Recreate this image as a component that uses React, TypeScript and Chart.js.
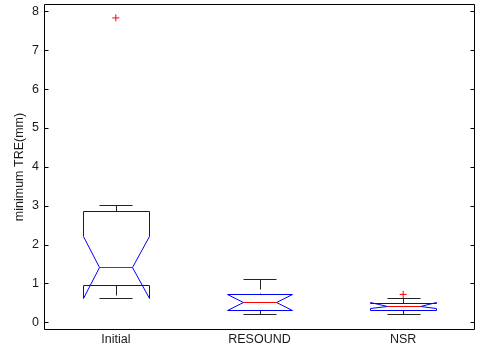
import React, { useEffect, useRef } from 'react';
import { Chart, registerables } from 'chart.js';

Chart.register(...registerables);

// ---- data ----
const categories = ['Initial', 'RESOUND', 'NSR'];
const lowerWhisker = [0.63, 0.205, 0.213];
const q1 = [0.964, 0.315, 0.315];
const notchLow = [0.63, 0.308, 0.36];
const median = [1.425, 0.513, 0.425];
const notchHigh = [2.213, 0.718, 0.51];
const q3 = [2.86, 0.718, 0.487];
const upperWhisker = [3.02, 1.12, 0.615];
const outlierGroup = [1, 3];
const outlierValue = [7.83, 0.718];
const yTicks = [0, 1, 2, 3, 4, 5, 6, 7, 8];
const yLabel = 'minimum TRE(mm)';

const BOX_HALF = 0.228;
const NOTCH_HALF = 0.114;
const CAP_HALF = 0.114;

const FONT = { family: '"Liberation Sans", Arial, sans-serif', size: 12.5 };
const TEXT = '#1a1a1a';

const snap = (v: number) => Math.round(v) + 0.5;

const boxPlugin = {
  id: 'boxPlugin',
  beforeDatasetsDraw(chart: any) {
    const { ctx } = chart;
    const xs = chart.scales.x;
    const ys = chart.scales.y;
    const X = (v: number) => snap(xs.getPixelForValue(v));
    const Y = (v: number) => snap(ys.getPixelForValue(v));
    ctx.save();
    ctx.lineWidth = 1;
    categories.forEach((_, i) => {
      const c = i + 1;
      const xc = X(c);
      const L = X(c - BOX_HALF);
      const R = X(c + BOX_HALF);
      const NL = X(c - NOTCH_HALF);
      const NR = X(c + NOTCH_HALF);
      const CL = X(c - CAP_HALF);
      const CR = X(c + CAP_HALF);
      // whiskers (dashed)
      ctx.strokeStyle = '#222';
      ctx.setLineDash([10, 4]);
      ctx.beginPath();
      ctx.moveTo(xc, Y(upperWhisker[i]));
      ctx.lineTo(xc, Y(q3[i]));
      ctx.stroke();
      ctx.beginPath();
      ctx.moveTo(xc, Y(q1[i]));
      ctx.lineTo(xc, Y(lowerWhisker[i]));
      ctx.stroke();
      ctx.setLineDash([]);
      // caps
      ctx.beginPath();
      ctx.moveTo(CL, Y(upperWhisker[i]));
      ctx.lineTo(CR, Y(upperWhisker[i]));
      ctx.moveTo(CL, Y(lowerWhisker[i]));
      ctx.lineTo(CR, Y(lowerWhisker[i]));
      ctx.stroke();
      // notched box
      ctx.strokeStyle = '#0000ff';
      ctx.beginPath();
      ctx.moveTo(L, Y(q1[i]));
      ctx.lineTo(L, Y(notchLow[i]));
      ctx.lineTo(NL, Y(median[i]));
      ctx.lineTo(L, Y(notchHigh[i]));
      ctx.lineTo(L, Y(q3[i]));
      ctx.lineTo(R, Y(q3[i]));
      ctx.lineTo(R, Y(notchHigh[i]));
      ctx.lineTo(NR, Y(median[i]));
      ctx.lineTo(R, Y(notchLow[i]));
      ctx.lineTo(R, Y(q1[i]));
      ctx.closePath();
      ctx.stroke();
      // median
      ctx.strokeStyle = '#ff0000';
      ctx.beginPath();
      ctx.moveTo(NL, Y(median[i]));
      ctx.lineTo(NR, Y(median[i]));
      ctx.stroke();
    });
    ctx.restore();
  },
};

const framePlugin = {
  id: 'framePlugin',
  afterDraw(chart: any) {
    const { ctx, chartArea } = chart;
    const ys = chart.scales.y;
    const l = chartArea.left + 0.5;
    const r = chartArea.right - 0.5;
    const t = chartArea.top - 0.5;
    const b = chartArea.bottom + 0.5;
    ctx.save();
    ctx.strokeStyle = '#000';
    ctx.lineWidth = 1;
    ctx.beginPath();
    ctx.rect(l, t, r - l, b - t);
    yTicks.forEach((v) => {
      const py = snap(ys.getPixelForValue(v));
      ctx.moveTo(l, py);
      ctx.lineTo(l + 4, py);
      ctx.moveTo(r, py);
      ctx.lineTo(r - 4, py);
    });
    ctx.stroke();
    ctx.restore();
  },
};

export default function App() {
  const ref = useRef<HTMLCanvasElement>(null);
  useEffect(() => {
    if (!ref.current) return;
    const chart = new Chart(ref.current, {
      type: 'scatter',
      data: {
        datasets: [
          {
            data: outlierGroup.map((g, i) => ({ x: g, y: outlierValue[i] })),
            pointStyle: 'cross',
            radius: 3.5,
            borderColor: '#ff0000',
            backgroundColor: '#ff0000',
            borderWidth: 1,
          },
        ],
      },
      options: {
        animation: false,
        responsive: false,
        events: [],
        layout: { padding: { top: 4, right: 1, left: 0, bottom: 0 } },
        plugins: { legend: { display: false }, tooltip: { enabled: false } },
        scales: {
          x: {
            type: 'linear',
            min: 0.5,
            max: 3.5,
            grid: { display: false, drawTicks: false },
            border: { display: false },
            afterBuildTicks: (s: any) => {
              s.ticks = categories.map((_, i) => ({ value: i + 1 }));
            },
            afterFit: (s: any) => {
              s.height = 25;
              s.paddingLeft = 0;
              s.paddingRight = 0;
            },
            ticks: {
              callback: (v: any) => categories[Math.round(Number(v)) - 1],
              font: FONT,
              color: TEXT,
              padding: 3,
              maxRotation: 0,
              autoSkip: false,
            },
          },
          y: {
            type: 'linear',
            min: -0.172,
            max: 8.162,
            grid: { display: false, drawTicks: false },
            border: { display: false },
            afterBuildTicks: (s: any) => {
              s.ticks = yTicks.map((v) => ({ value: v }));
            },
            afterFit: (s: any) => {
              s.width = 44;
              s.paddingTop = 0;
              s.paddingBottom = 0;
            },
            ticks: { font: FONT, color: TEXT, padding: 5 },
            title: {
              display: true,
              text: yLabel,
              font: FONT,
              color: TEXT,
              padding: { top: 12, bottom: 0 },
            },
          },
        },
      } as any,
      plugins: [boxPlugin, framePlugin],
    });
    return () => chart.destroy();
  }, []);
  return (
    <div style={{ position: 'fixed', left: 0, top: 0, width: 480, height: 354, background: '#fff' }}>
      <canvas ref={ref} width={480} height={354} style={{ display: 'block' }} />
    </div>
  );
}
